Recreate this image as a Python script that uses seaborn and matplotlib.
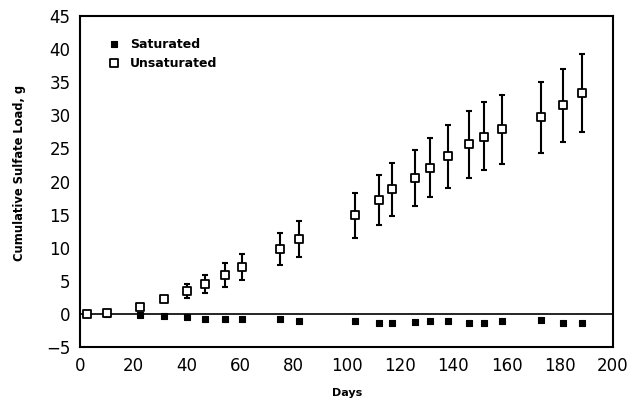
import matplotlib
matplotlib.use("Agg")
import matplotlib.pyplot as plt
import seaborn as sns
import numpy as np
import pandas as pd

# ---- data ----
unsat_days = [2.5, 10, 22.5, 31.5, 40, 47, 54.4, 60.6, 74.8, 82, 103.2, 112.2, 117.2,
              125.5, 131.2, 138.1, 146, 151.7, 158.5, 173, 181.2, 188.4]
unsat_load = [0.0, 0.1, 1.0, 2.2, 3.5, 4.5, 5.9, 7.1, 9.8, 11.3, 14.9, 17.2, 18.9,
              20.6, 22.1, 23.8, 25.6, 26.8, 28.0, 29.7, 31.5, 33.3]
unsat_hi = [0.0, 0.1, 1.0, 2.4, 4.5, 5.9, 7.7, 9.1, 12.2, 14.0, 18.2, 21.0, 22.8,
            24.8, 26.5, 28.5, 30.7, 32.0, 33.1, 35.0, 37.0, 39.2]
unsat_lo = [0.0, 0.1, 1.0, 2.0, 2.4, 3.1, 4.1, 5.2, 7.4, 8.6, 11.5, 13.5, 14.8,
            16.3, 17.6, 19.1, 20.6, 21.8, 22.6, 24.3, 26.0, 27.5]

sat_days = unsat_days
sat_load = [0.0, 0.0, -0.1, -0.3, -0.5, -0.7, -0.7, -0.8, -0.8, -1.1, -1.0, -1.4, -1.3,
            -1.2, -1.1, -1.1, -1.3, -1.3, -1.1, -0.9, -1.3, -1.4]

x_ticks = [0, 20, 40, 60, 80, 100, 120, 140, 160, 180, 200]
y_ticks = [-5, 0, 5, 10, 15, 20, 25, 30, 35, 40, 45]

sns.set_style("white")
plt.rcParams['font.family'] = ['DejaVu Sans']

fig = plt.figure(figsize=(6.32, 3.99), dpi=100)
ax = fig.add_axes([0.127, 0.130, 0.843, 0.830])

df_u = pd.DataFrame({"Days": unsat_days, "Load": unsat_load,
                     "lo": unsat_lo, "hi": unsat_hi})
df_s = pd.DataFrame({"Days": sat_days, "Load": sat_load})

ax.axhline(0, color="black", lw=1.2, zorder=1)

yerr = np.array([df_u["Load"] - df_u["lo"], df_u["hi"] - df_u["Load"]])
ax.errorbar(df_u["Days"], df_u["Load"], yerr=yerr, fmt="none", ecolor="black",
            elinewidth=1.5, capsize=2.5, capthick=1.5, zorder=2)

sns.scatterplot(data=df_s, x="Days", y="Load", ax=ax, marker="s", s=22,
                color="black", edgecolor="black", linewidth=0.8, zorder=3,
                label="Saturated")
sns.scatterplot(data=df_u, x="Days", y="Load", ax=ax, marker="s", s=36,
                facecolor="white", edgecolor="black", linewidth=1.3, zorder=4,
                label="Unsaturated")

ax.set_xlim(0, 200)
ax.set_ylim(-5, 45)
ax.set_xticks(x_ticks)
ax.set_yticks(y_ticks)
ax.tick_params(direction="inout", length=8, width=1.2, labelsize=12,
               colors="black", pad=3)
for s in ax.spines.values():
    s.set_visible(True)
    s.set_color("black")
    s.set_linewidth(1.5)

ax.set_xlabel("Days", fontsize=8, fontweight="bold", color="black")
ax.set_ylabel("Cumulative Sulfate Load, g", fontsize=8.3, fontweight="bold",
              color="black")
ax.yaxis.set_label_coords(-0.101, 0.526)
ax.xaxis.set_label_coords(0.5, -0.124)

leg = ax.legend(loc="upper left", bbox_to_anchor=(0.03, 0.95), frameon=False,
                fontsize=9, handletextpad=0.3, labelspacing=0.5,
                markerscale=0.9, borderaxespad=0)
for t in leg.get_texts():
    t.set_fontweight("bold")
    t.set_color("black")

fig.savefig("out.png", dpi=100)
